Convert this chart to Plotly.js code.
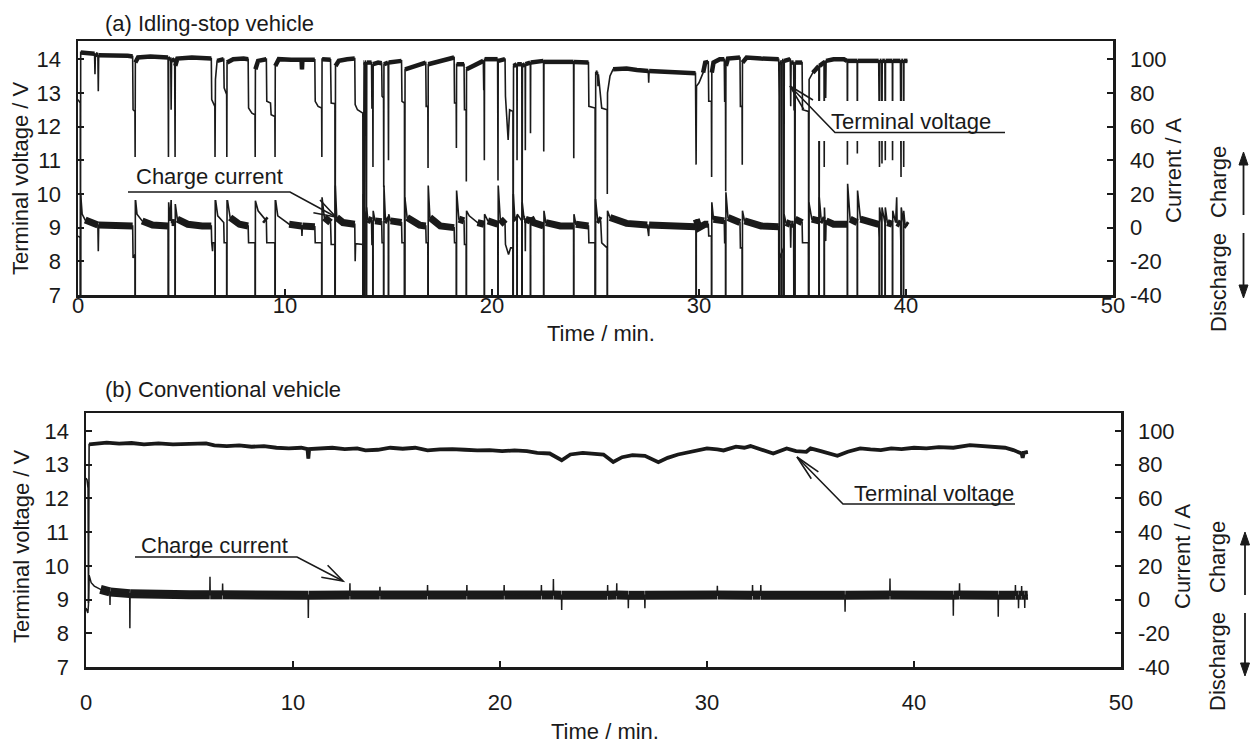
<!DOCTYPE html>
<html>
<head>
<meta charset="utf-8">
<script src="https://cdn.plot.ly/plotly-3.0.1.min.js"></script>
<style>html,body{margin:0;padding:0;background:#fff}#chart{width:1255px;height:745px}</style>
</head>
<body>
<div id="chart"></div>
<script>
// ---------------- DATA ----------------
const timeTicks = [0, 10, 20, 30, 40, 50];
const voltTicks = [7, 8, 9, 10, 11, 12, 13, 14];
const currTicks = [-40, -20, 0, 20, 40, 60, 80, 100];
const currTickLabels = ['-40', '-20', '0', '20', '40', '60', '80', '100'];

// (a) Idling-stop vehicle: terminal voltage [min, V]
const voltA = [
[0,12.8],[0.06,12.75],[0.11,12.7],[0.12,6.5],[0.13,14.2],
[0.5,14.18],[0.8,14.16],[0.82,13.55],[0.84,14.15],[0.96,14.12],[0.98,13.05],[1.0,14.12],
[1.5,14.12],[2.0,14.1],[2.4,14.1],[2.64,14.08],[2.66,12.5],[2.75,12.45],[2.76,11.1],[2.77,13.9],[2.9,14.05],
[3.5,14.08],[4.0,14.05],[4.35,14.05],[4.37,11.1],[4.38,14.0],[4.48,14.03],[4.5,12.5],[4.52,13.95],[4.67,14.0],[4.69,11.1],[4.70,13.8],[4.8,14.02],
[5.5,14.05],[6.0,14.03],[6.44,14.02],[6.46,12.8],[6.55,12.65],[6.61,12.6],[6.62,11.1],[6.64,13.4],[6.72,13.95],
[7.04,14.0],[7.06,13.15],[7.18,12.95],[7.19,11.1],[7.2,13.9],[7.5,14.0],
[8.0,14.02],[8.22,14.0],[8.24,12.55],[8.4,12.4],[8.55,12.35],[8.56,11.1],[8.57,13.7],[8.7,13.95],
[9.1,14.0],[9.12,12.75],[9.3,12.7],[9.33,12.35],[9.51,12.3],[9.52,11.1],[9.53,13.8],[9.7,14.0],
[10.3,13.98],[10.8,13.98],[10.82,13.7],[10.84,13.98],[11.44,13.98],[11.46,12.75],[11.6,12.6],[11.77,12.55],[11.78,11.1],[11.79,14.0],
[12.2,13.98],[12.23,12.7],[12.41,12.68],[12.42,6.5],[12.44,13.8],[12.6,13.95],
[13.0,14.0],[13.37,14.02],[13.39,12.65],[13.5,12.5],[13.76,12.4],[13.77,6.5],[13.79,13.9],[13.82,13.9],[13.83,6.5],[13.85,13.9],[13.92,13.9],[13.93,6.5],[13.95,13.9],
[14.18,13.9],[14.2,12.55],[14.24,12.55],[14.25,10.8],[14.26,13.85],[14.5,13.9],[14.67,13.88],[14.69,12.9],[14.76,12.85],[14.77,10.2],[14.78,13.85],[14.98,13.9],[15.0,11.0],[15.01,13.9],
[15.4,13.95],[15.63,13.95],[15.65,12.75],[15.77,12.7],[15.78,6.5],[15.8,13.7],[16.3,13.8],[16.8,13.9],[16.82,12.6],[16.9,12.6],[16.91,10.77],[16.92,13.85],
[17.5,13.95],[18.17,14.05],[18.19,12.7],[18.27,12.7],[18.28,11.36],[18.29,13.85],[18.65,13.85],[18.67,12.5],[18.75,12.5],[18.76,10.37],[18.77,13.7],
[19.2,13.85],[19.58,13.95],[19.6,13.1],[19.62,13.1],[19.63,11.0],[19.64,14.0],[20.27,14.0],[20.29,10.4],[20.3,13.95],[20.63,14.0],
[20.65,12.9],[20.78,11.6],[20.85,12.5],[21.01,12.45],[21.02,6.5],[21.04,13.8],[21.2,13.85],[21.21,11.0],[21.22,13.85],[21.44,13.85],[21.45,6.5],[21.47,13.8],[21.6,13.85],[21.61,11.3],[21.62,13.85],[21.85,13.9],[21.86,11.8],[21.87,13.9],
[22.49,13.95],[22.5,11.26],[22.51,13.92],[23.3,13.92],[23.94,13.92],[23.95,11.06],[23.96,13.92],[24.66,13.9],
[24.68,12.6],[24.98,12.55],[24.99,6.5],[25.01,13.6],[25.1,13.6],[25.12,13.2],[25.14,13.55],[25.25,12.9],[25.3,12.55],[25.56,12.5],[25.57,10.0],[25.58,13.0],[25.7,13.5],[25.85,13.7],
[26.5,13.72],[27.0,13.68],[27.55,13.65],[27.57,13.3],[27.59,13.65],[28.0,13.64],[28.5,13.62],[29.0,13.61],[29.5,13.6],[29.83,13.58],[29.86,10.87],[29.88,13.2],[30.0,13.3],[30.2,13.6],[30.3,13.9],
[30.45,13.92],[30.47,12.75],[30.6,12.75],[30.61,10.5],[30.62,13.6],[30.7,13.9],[31.0,14.0],[31.22,14.0],[31.24,12.75],[31.28,12.75],[31.29,10.08],[31.3,13.8],[31.4,14.02],
[31.98,14.05],[32.0,12.6],[32.08,12.6],[32.09,10.87],[32.1,13.9],[32.3,14.05],[33.0,14.02],[33.85,14.0],[33.87,12.9],[33.88,6.5],[33.9,13.9],[33.98,13.9],[33.99,6.5],[34.01,13.95],[34.09,13.95],[34.1,6.5],[34.12,13.95],
[34.41,14.0],[34.43,12.6],[34.45,13.9],[34.57,13.9],[34.59,12.5],[34.62,12.5],[34.63,6.5],[34.65,13.9],[34.98,13.9],[35.0,12.5],[35.29,12.45],[35.3,6.5],[35.32,13.4],[35.5,13.6],[35.79,13.8],[35.8,6.5],[35.82,13.8],
[36.0,13.9],[36.04,13.9],[36.05,10.8],[36.06,13.9],[36.1,13.95],[36.12,12.85],[36.14,13.95],[36.5,14.0],[37.0,14.0],[37.16,13.95],[37.17,10.87],[37.18,13.95],[37.64,13.95],[37.65,11.2],[37.66,13.95],
[38.2,13.95],[38.68,13.95],[38.7,12.7],[38.72,10.8],[38.73,13.95],[38.82,13.95],[38.83,12.7],[38.84,10.9],[38.85,13.95],[38.98,13.95],[38.99,12.7],[39.0,11.0],[39.01,13.95],
[39.34,13.95],[39.35,11.0],[39.36,13.95],[39.73,13.95],[39.75,12.7],[39.76,10.5],[39.77,13.95],[39.87,13.95],[39.88,12.7],[39.89,10.8],[39.9,13.95],[40.07,13.95]
];

// (a) Idling-stop vehicle: current [min, A]
const currA = [
[0,-5],[0.11,-6],[0.12,-250],[0.13,20],[0.2,8],[0.35,4.5],[0.8,2],[0.96,1.5],[0.98,-14],[1.0,1.5],[1.6,1],[2.2,1.2],[2.64,1],[2.66,-18],[2.75,-16],[2.76,-250],[2.77,18],[2.85,8],[3.1,4],[3.6,1.5],
[4.35,1],[4.37,-250],[4.38,15],[4.45,4],[4.5,17],[4.52,3],[4.68,3],[4.69,-250],[4.7,14],[4.8,5],[5.3,2],[6.0,1],[6.44,1],[6.46,-9],[6.5,-14],[6.52,-9],[6.61,-9],[6.62,-250],[6.63,18],[6.75,7],
[7.04,3],[7.06,-9],[7.18,-9],[7.19,-250],[7.2,18],[7.35,6],[7.8,2],[8.22,1],[8.24,-9],[8.55,-9],[8.56,-250],[8.57,16],[8.7,10],[9.0,5],[9.1,4],[9.12,-9],[9.51,-9],[9.52,-250],[9.53,18],[9.65,7],
[10.2,2],[10.8,1],[10.82,-5],[10.84,1],[11.44,0.5],[11.46,-9],[11.77,-9],[11.78,-250],[11.79,18],[11.9,6],[12.2,3],[12.23,-10],[12.41,-10],[12.42,-250],[12.43,25],[12.5,6],[12.8,3],
[13.37,2],[13.39,-20],[13.41,-9.5],[13.76,-10],[13.77,-250],[13.78,20],[13.82,5],[13.83,-250],[13.84,10],[13.92,5],[13.93,-250],[13.94,12],[14.0,5],[14.18,4],[14.2,-10],[14.24,-10],[14.25,-250],[14.26,10],[14.35,4],
[14.67,3.5],[14.69,-9],[14.76,-9],[14.77,-250],[14.78,25],[14.85,5],[14.99,4],[15.0,-250],[15.01,8],[15.1,4],[15.63,3],[15.65,-9],[15.77,-9],[15.78,-250],[15.79,18],[15.9,6],[16.5,1.5],
[16.8,1],[16.82,-9],[16.9,-9],[16.91,-250],[16.92,25],[17.0,6],[17.5,1],[18.17,0],[18.19,-9],[18.27,-9],[18.28,-250],[18.29,22],[18.4,5],[18.65,4],[18.67,-10],[18.75,-10],[18.76,-250],[18.77,10],[18.9,7],
[19.3,3],[19.62,2],[19.63,-250],[19.64,8],[19.8,4],[20.28,2],[20.29,-250],[20.3,25],[20.4,5],[20.63,2],[20.65,-10],[20.8,-16],[20.9,-12],[21.01,-12],[21.02,-250],[21.03,20],[21.1,6],
[21.2,5],[21.21,-250],[21.22,8],[21.44,4],[21.45,-250],[21.46,15],[21.55,5],[21.6,5],[21.61,-14],[21.62,5],[21.85,4],[21.86,-250],[21.87,6],[22.0,3],[22.49,1],[22.5,-250],[22.51,10],[22.6,3],
[23.3,1],[23.94,1],[23.95,-250],[23.96,8],[24.05,2],[24.66,1],[24.68,-9],[24.98,-9],[24.99,-250],[25.0,17],[25.1,5],[25.25,4],[25.3,-9],[25.56,-12],[25.57,-250],[25.58,10],[25.7,6],
[26.5,2.5],[27.5,1.5],[27.57,-5],[27.59,1.5],[28.5,1],[29.85,0.5],[29.86,-250],[29.87,5],[30.0,0],[30.3,2],[30.45,2],[30.47,-5],[30.6,-5],[30.61,-250],[30.62,15],[30.7,5],[31.0,4],
[31.22,4],[31.24,-9],[31.28,-9],[31.29,-250],[31.3,21],[31.4,6],[31.98,3],[32.0,-12],[32.08,-12],[32.09,-250],[32.1,10],[32.2,4],[33.0,1],[33.85,0.5],[33.87,-12],[33.88,-250],[33.89,-18],
[33.98,-15],[33.99,-250],[34.0,-15],[34.09,-12],[34.1,-250],[34.11,8],[34.2,3],[34.41,2],[34.43,-12],[34.45,2],[34.57,2],[34.59,-12],[34.62,-12],[34.63,-250],[34.64,5],[34.98,3],
[35.0,-9],[35.29,-9],[35.3,-250],[35.31,15],[35.45,5],[35.79,4],[35.8,-250],[35.81,18],[35.9,5],[36.04,4],[36.05,-250],[36.06,12],[36.12,-8],[36.14,4],[36.5,2],[37.16,2],[37.17,-250],[37.18,26],[37.3,5],
[37.64,3],[37.65,-250],[37.66,22],[37.8,5],[38.68,2],[38.7,-6],[38.71,-250],[38.72,12],[38.82,3],[38.83,-250],[38.84,12],[38.98,3],[38.99,-250],[39.0,12],[39.1,3],[39.34,2],[39.35,-250],[39.36,10],
[39.5,3],[39.55,18],[39.57,3],[39.73,2],[39.75,-9],[39.76,-250],[39.77,12],[39.87,3],[39.88,-250],[39.89,10],[39.95,2],[40.07,1]
];

// (b) Conventional vehicle: terminal voltage [min, V]
const voltB = [
[0,12.6],[0.05,12.55],[0.1,12.3],[0.12,8.9],[0.15,13.6],[0.5,13.63],[1.0,13.65],[1.6,13.62],[2.2,13.64],[2.8,13.6],[3.5,13.63],[4.2,13.6],[5.0,13.62],[5.8,13.63],
[6.2,13.57],[6.8,13.55],[7.4,13.57],[8.0,13.53],[8.6,13.55],[9.2,13.5],[9.8,13.48],[10.4,13.5],[10.7,13.46],[10.74,13.18],[10.78,13.46],[11.3,13.47],[11.9,13.5],[12.5,13.46],
[13.1,13.48],[13.5,13.42],[14.1,13.44],[14.7,13.5],[15.3,13.47],[15.9,13.5],[16.5,13.42],[17.1,13.45],[17.7,13.46],[18.3,13.44],[18.9,13.42],[19.5,13.43],[20.1,13.4],[20.7,13.42],
[21.3,13.4],[21.8,13.35],[22.4,13.33],[22.98,13.13],[23.4,13.3],[24.0,13.35],[24.6,13.33],[25.0,13.3],[25.47,13.08],[25.9,13.22],[26.4,13.28],[27.0,13.26],[27.65,13.07],[28.1,13.2],
[28.6,13.3],[29.3,13.4],[30.0,13.48],[30.5,13.45],[30.8,13.42],[31.4,13.53],[31.8,13.5],[32.1,13.55],[32.6,13.45],[33.2,13.33],[33.85,13.48],[34.3,13.4],[34.8,13.38],[35.0,13.48],
[35.5,13.4],[36.3,13.26],[36.8,13.38],[37.4,13.48],[37.9,13.45],[38.4,13.43],[38.9,13.48],[39.4,13.46],[40.0,13.5],[40.6,13.48],[41.2,13.52],[41.9,13.5],[42.7,13.58],[43.3,13.55],
[43.8,13.53],[44.4,13.5],[44.8,13.43],[45.2,13.33],[45.25,13.2],[45.3,13.35],[45.5,13.38]
];

// (b) Conventional vehicle: current [min, A]
const currB = [
[0,-5],[0.09,-8],[0.12,-3],[0.15,14.5],[0.25,10],[0.4,8],[0.7,6],[1.0,5],[1.15,4.5],[1.16,-3.3],[1.17,4.5],[1.6,4],[2.11,3.5],[2.12,-17],[2.13,3.5],[3.0,3],[4.0,3],[5.0,2.8],
[5.98,2.8],[5.99,13.5],[6.0,2.8],[6.59,2.8],[6.6,9.5],[6.61,2.8],[7.5,2.7],[8.5,2.8],[9.5,2.6],[10.73,2.5],[10.74,-11],[10.75,2.5],[11.5,2.6],[12.74,2.7],[12.75,9.6],[12.76,2.7],
[13.5,2.6],[14.19,2.7],[14.2,7.6],[14.21,2.7],[15.5,2.6],[16.49,2.7],[16.5,8.6],[16.51,2.7],[17.5,2.6],[18.39,2.7],[18.4,8.6],[18.41,2.7],[19.5,2.6],[20.19,2.7],[20.2,8.6],[20.21,2.7],
[21.5,2.6],[21.99,2.7],[22.0,8.6],[22.01,2.7],[22.57,2.7],[22.58,12.2],[22.59,2.7],[22.97,2.6],[22.98,-6.2],[22.99,2.6],[24.0,2.5],[25.19,2.6],[25.2,8.6],[25.21,2.6],
[25.63,2.7],[25.64,9.6],[25.65,2.7],[26.19,2.5],[26.2,-5.2],[26.21,2.5],[26.99,2.5],[27.0,-5.2],[27.01,2.5],[28.0,2.6],[29.0,2.6],[30.49,2.7],[30.5,8.2],[30.51,2.7],[31.0,2.6],
[32.19,2.6],[32.2,8.6],[32.21,2.6],[32.59,2.6],[32.6,8.6],[32.61,2.6],[33.0,2.7],[34.0,2.6],[35.0,2.6],[36.0,2.5],[36.66,2.5],[36.67,-7.2],[36.68,2.5],[37.5,2.6],
[38.83,2.7],[38.84,12.5],[38.85,2.7],[40.0,2.6],[41.0,2.6],[41.89,2.5],[41.9,-9.6],[41.91,2.5],[42.19,2.7],[42.2,9.6],[42.21,2.7],[43.0,2.6],[44.06,2.5],[44.07,-10.2],[44.08,2.5],
[44.89,2.6],[44.9,8.6],[44.91,2.6],[45.04,2.5],[45.05,-5.2],[45.06,2.5],[45.19,2.6],[45.2,8.0],[45.21,2.6],[45.34,2.5],[45.35,-5.0],[45.36,2.5],[45.5,2.6]
];

// ---------------- LAYOUT HELPERS ----------------
const W = 1255, H = 745;
const FONT = 'Liberation Sans, Arial, Helvetica, sans-serif';
const INK = '#1a1a1a';
const px = x => x / W;
const py = y => 1 - y / H;
const pathOf = pts => pts.map((p, i) => (i ? 'L' : 'M') + px(p[0]).toFixed(5) + ',' + py(p[1]).toFixed(5)).join(' ');

const xs = arr => arr.map(p => p[0]);
const ys = arr => arr.map(p => p[1]);
const band = (arr, lo, hi) => arr.map(p => (p[1] >= lo && p[1] <= hi) ? p[1] : null);

function line(arr, xa, ya, w) {
  return {x: xs(arr), y: ys(arr), xaxis: xa, yaxis: ya, type: 'scatter', mode: 'lines',
          line: {color: INK, width: w}, hoverinfo: 'skip', showlegend: false};
}
function bandLine(arr, xa, ya, lo, hi, w) {
  return {x: xs(arr), y: band(arr, lo, hi), xaxis: xa, yaxis: ya, type: 'scatter', mode: 'lines',
          connectgaps: false, line: {color: INK, width: w}, hoverinfo: 'skip', showlegend: false};
}

const data = [
  bandLine(voltA, 'x', 'y', 13.58, 15, 4.5),
  line(voltA, 'x', 'y', 1.6),
  bandLine(currA, 'x', 'y3', -3, 6, 7),
  line(currA, 'x', 'y3', 1.6),
  bandLine(voltB, 'x2', 'y2', 13.0, 15, 3.8),
  line(voltB, 'x2', 'y2', 1.6),
  bandLine(currB, 'x2', 'y4', -3, 7, 9),
  line(currB, 'x2', 'y4', 1.5)
];

const tickFont = {family: FONT, size: 22, color: INK};
function xAxis(domain, anchor, standoff) {
  return {domain: domain, anchor: anchor, range: [0, 50], tickmode: 'array', tickvals: timeTicks,
          ticks: 'inside', ticklen: 6, tickwidth: 2, tickcolor: INK, showline: true, linewidth: 2.5,
          linecolor: INK, mirror: true, showgrid: false, zeroline: false, tickfont: tickFont,
          ticklabelstandoff: standoff, fixedrange: true};
}
function yLeft(domain, anchor, top) {
  return {domain: domain, anchor: anchor, range: [7, top], tickmode: 'array', tickvals: voltTicks,
          ticks: 'inside', ticklen: 6, tickwidth: 2, tickcolor: INK, showline: true, linewidth: 2.5,
          linecolor: INK, mirror: true, showgrid: false, zeroline: false, tickfont: tickFont,
          ticklabelstandoff: 10, fixedrange: true};
}
function yRight(over, anchor, top) {
  return {overlaying: over, anchor: anchor, side: 'right', range: [-40, top], tickmode: 'array',
          tickvals: currTicks, ticktext: currTickLabels, ticks: 'inside', ticklen: 6, tickwidth: 2,
          tickcolor: INK, showline: true, linewidth: 2.5, linecolor: INK, showgrid: false,
          zeroline: false, tickfont: tickFont, ticklabelstandoff: 10, fixedrange: true};
}

const xdomA = [px(78), px(1113)], ydomA = [py(295), py(41)];
const xdomB = [px(86), px(1121)], ydomB = [py(667), py(413)];

function txt(text, x, y, opts) {
  return Object.assign({text: text, x: px(x), y: py(y), xref: 'paper', yref: 'paper', showarrow: false,
          xanchor: 'center', yanchor: 'middle', font: {family: FONT, size: 22, color: INK}}, opts || {});
}

const annotations = [
  txt('(a) Idling-stop vehicle', 103, 23, {xanchor: 'left'}),
  txt('(b) Conventional vehicle', 103, 389, {xanchor: 'left'}),
  txt('Terminal voltage / V', 20, 178, {textangle: -90}),
  txt('Terminal voltage / V', 21, 546, {textangle: -90}),
  txt('Time / min.', 601, 334),
  txt('Time / min.', 605, 731),
  txt('Current / A', 1174, 171, {textangle: -90}),
  txt('Current / A', 1182, 557, {textangle: -90}),
  txt('Charge', 1218, 182, {textangle: -90}),
  txt('Discharge', 1218, 283, {textangle: -90}),
  txt('Charge', 1217, 557, {textangle: -90}),
  txt('Discharge', 1217, 662, {textangle: -90}),
  txt('Charge current', 209, 177),
  txt('Terminal voltage', 911, 122),
  txt('Charge current', 215, 545),
  txt('Terminal voltage', 934, 494)
];

const lineStyle = {color: INK, width: 1.6};
function pathShape(pts, style) {
  return {type: 'path', xref: 'paper', yref: 'paper', path: pathOf(pts), line: style || lineStyle, layer: 'above'};
}
function rectShape(x0, y0, x1, y1) {
  return {type: 'rect', xref: 'paper', yref: 'paper', x0: px(x0), x1: px(x1), y0: py(y1), y1: py(y0),
          fillcolor: '#ffffff', line: {width: 0}, layer: 'above'};
}
function triShape(pts) {
  return {type: 'path', xref: 'paper', yref: 'paper', path: pathOf(pts) + ' Z', fillcolor: INK,
          line: {color: INK, width: 1}, layer: 'above'};
}

const shapes = [
  rectShape(126, 157, 300, 200),
  pathShape([[128, 192], [290, 192], [336, 217]]),
  pathShape([[320, 200], [336, 217], [313.4, 212.8]]),
  rectShape(812, 101, 1010, 141),
  pathShape([[1005, 132.5], [835, 132.5], [790, 86]]),
  pathShape([[813, 100], [790, 86], [803.7, 109.3]]),
  pathShape([[135, 557], [297, 557], [343, 581]]),
  pathShape([[327.6, 565.3], [343, 581], [321.3, 577.3]]),
  pathShape([[1015, 504], [843, 504], [797, 457]]),
  pathShape([[818.4, 471.8], [797, 457], [811.3, 478.7]]),
  pathShape([[1243.5, 215], [1243.5, 160]], {color: INK, width: 1.8}),
  triShape([[1243.5, 152], [1239, 165], [1248, 165]]),
  pathShape([[1243.5, 233], [1243.5, 290]], {color: INK, width: 1.8}),
  triShape([[1243.5, 298], [1239, 285], [1248, 285]]),
  pathShape([[1245, 595], [1245, 540]], {color: INK, width: 1.8}),
  triShape([[1245, 532], [1240.5, 545], [1249.5, 545]]),
  pathShape([[1245, 613], [1245, 668]], {color: INK, width: 1.8}),
  triShape([[1245, 676], [1240.5, 663], [1249.5, 663]])
];

const layout = {
  width: W, height: H, margin: {l: 0, r: 0, t: 0, b: 0},
  paper_bgcolor: '#ffffff', plot_bgcolor: '#ffffff', showlegend: false,
  font: {family: FONT, size: 22, color: INK},
  xaxis: xAxis(xdomA, 'y', -11),
  yaxis: yLeft(ydomA, 'x', 14.54),
  yaxis3: yRight('y', 'x', 110.8),
  xaxis2: xAxis(xdomB, 'y2', 14),
  yaxis2: yLeft(ydomB, 'x2', 14.53),
  yaxis4: yRight('y2', 'x2', 110.6),
  annotations: annotations,
  shapes: shapes
};

Plotly.newPlot('chart', data, layout, {staticPlot: true, displayModeBar: false});
</script>
</body>
</html>
